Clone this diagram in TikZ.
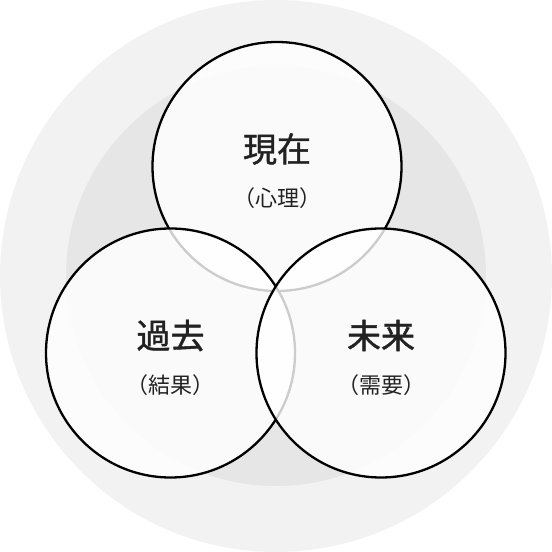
\documentclass[tikz,border=0pt]{standalone}
\usepackage{fontspec}
\newfontfamily\jp{Noto Sans CJK JP}[FakeBold=1.2]
\newfontfamily\jpsub{Noto Sans CJK JP}
\usetikzlibrary{positioning}
\definecolor{outergray}{HTML}{F2F2F2}
\definecolor{innergray}{HTML}{E6E6E6}
\definecolor{ink}{HTML}{222222}
\begin{document}
\begin{tikzpicture}[x=1pt, y=1pt,
    ring/.style = {circle, draw=black, line width=2.3pt, fill=white, fill opacity=0.8, minimum size=249pt, inner sep=0pt},
    title/.style = {font=\jp\fontsize{34}{34}\selectfont, text=ink, text opacity=1},
    sub/.style = {font=\jpsub\fontsize{22}{22}\selectfont, text=ink, text opacity=1}]
    \useasboundingbox (0,0) rectangle (552,552);
    % background discs
    \fill[outergray] (276,276) circle (276);
    \fill[innergray] (276,276) circle (210);
    % the three circles
    \node[ring] (now) at (277,385.5) {};
    \node[ring] (past) at (170.5,199) {};
    \node[ring] (future) at (381,199) {};
    % labels
    \node[title, yshift=17.5pt] (nowT) at (now) {現在};
    \node[sub, yshift=-32pt] (nowS) at (now) {（心理）};
    \node[title, yshift=17.5pt] (pastT) at (past) {過去};
    \node[sub, yshift=-32pt] (pastS) at (past) {（結果）};
    \node[title, yshift=17.5pt] (futureT) at (future) {未来};
    \node[sub, yshift=-32pt] (futureS) at (future) {（需要）};
\end{tikzpicture}
\end{document}
